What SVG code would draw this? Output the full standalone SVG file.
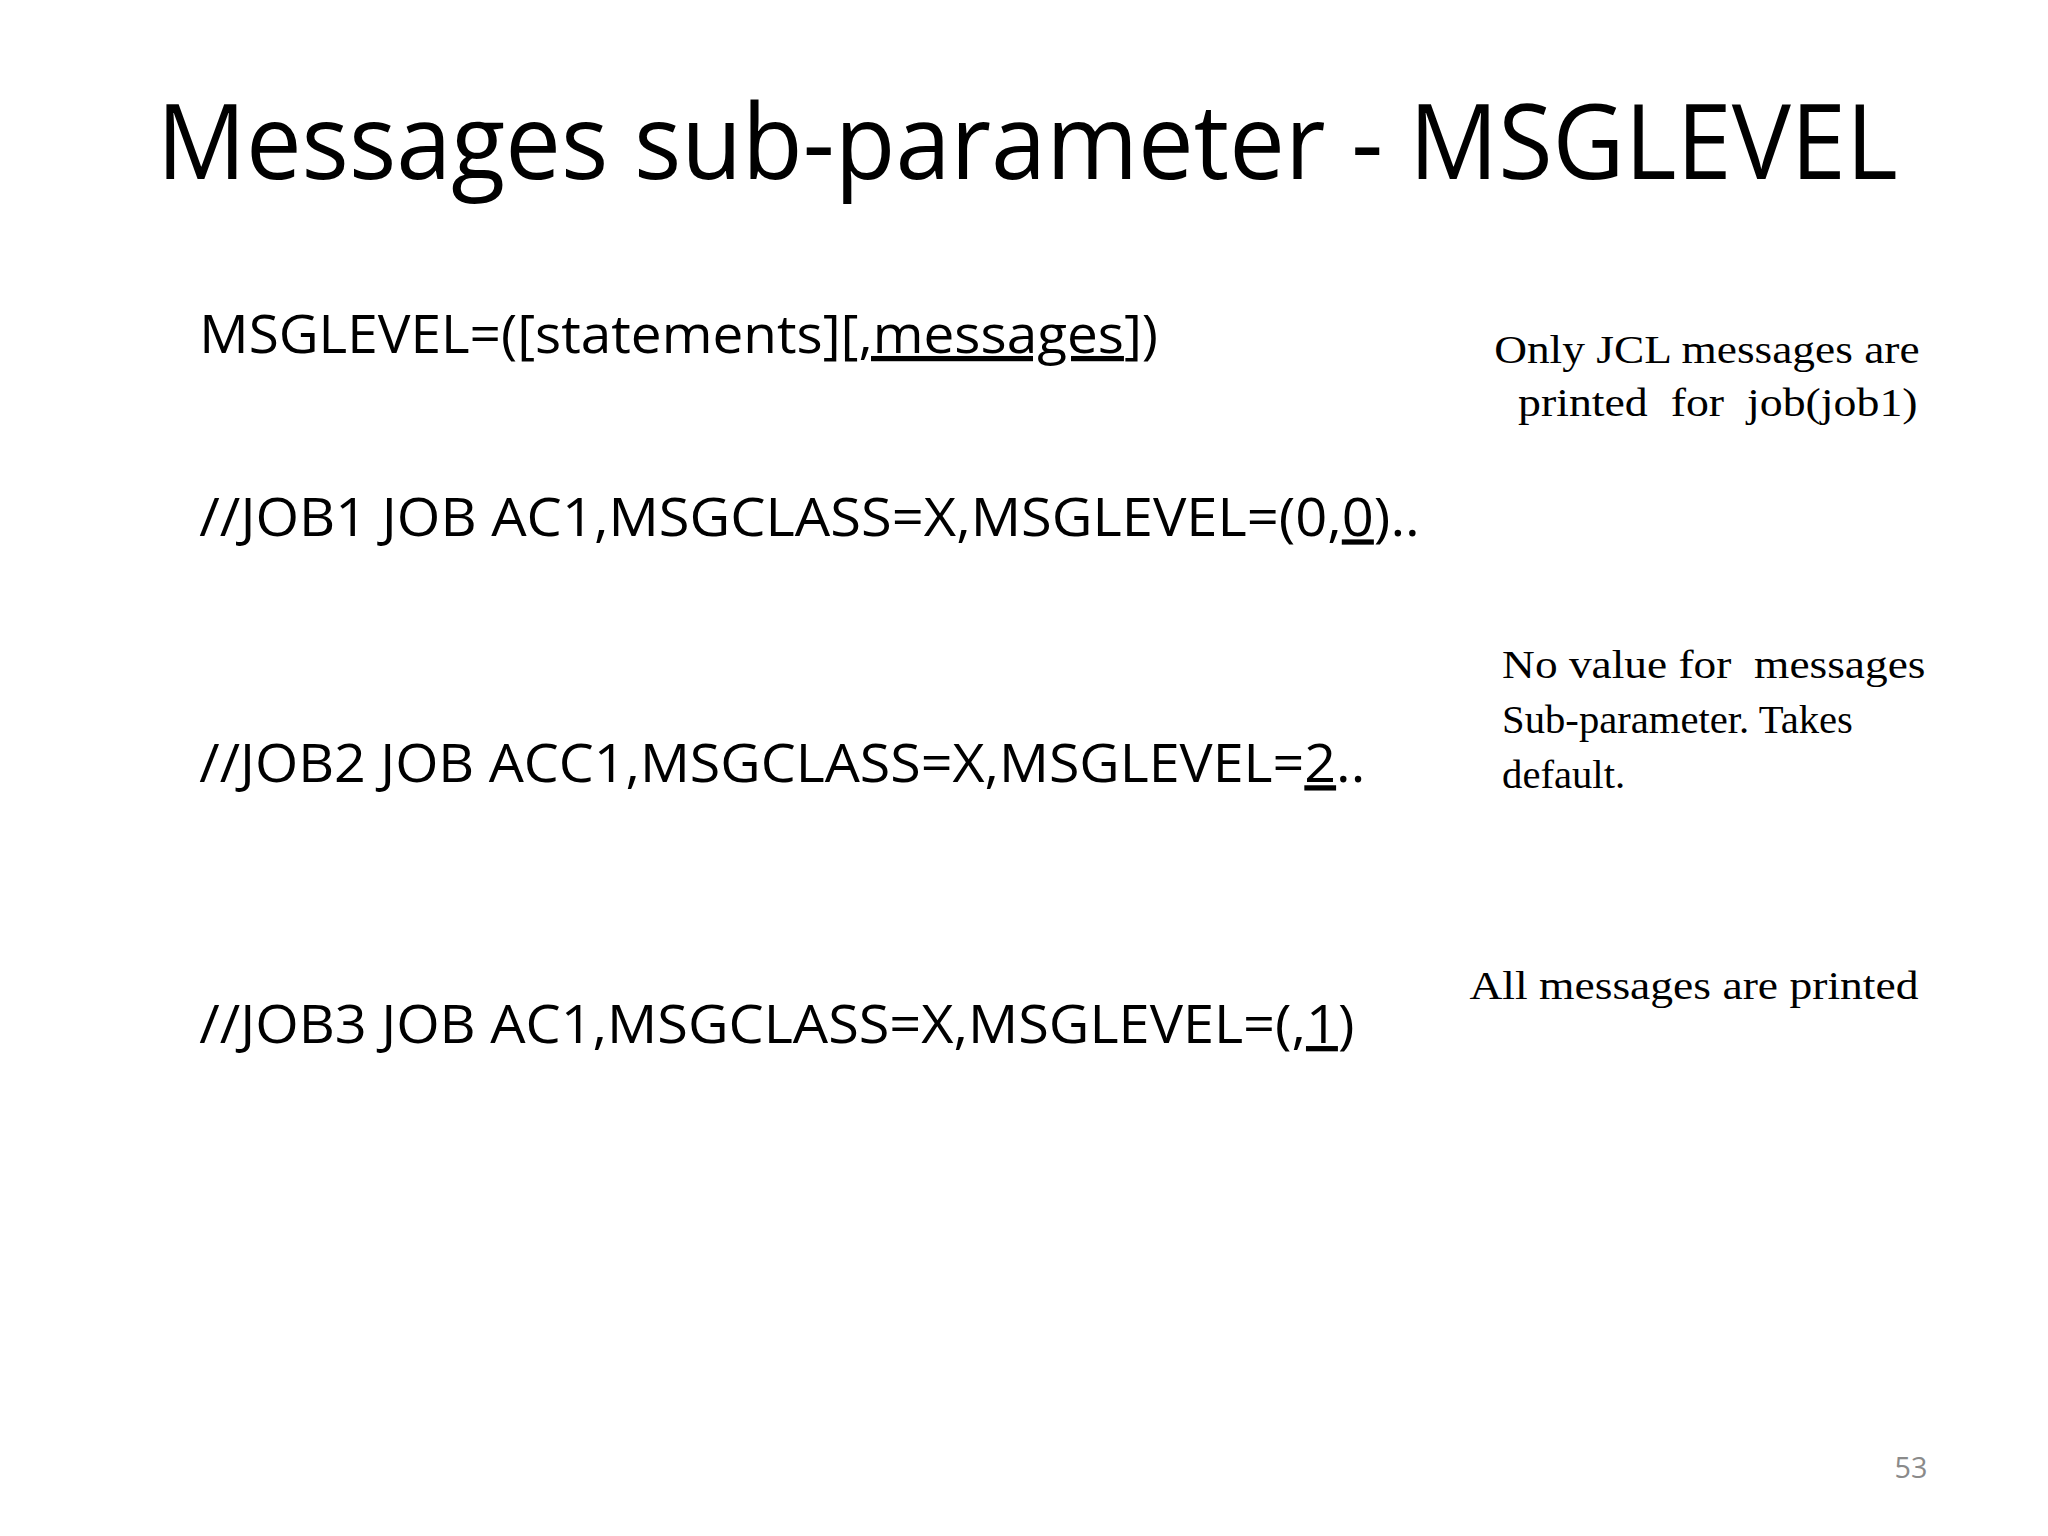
<svg xmlns="http://www.w3.org/2000/svg" width="2048" height="1536" viewBox="0 0 2048 1536">
<style>
.t{font-family:"Open Sans","Liberation Sans",sans-serif;fill:#000}
.c{font-family:"Open Sans","Liberation Sans",sans-serif;font-size:53px;fill:#000}
.r{font-family:"Liberation Serif",serif;font-size:41px;fill:#000}
.u{text-decoration:underline}
</style>
<rect width="2048" height="1536" fill="#fff"/>
<g transform="scale(0.9915)">
<text class="t" x="158" y="181" font-size="106" textLength="1756" lengthAdjust="spacingAndGlyphs">Messages sub-parameter - MSGLEVEL</text>
<g id="syntax"><text class="c" x="201" y="356" textLength="967" lengthAdjust="spacingAndGlyphs">MSGLEVEL=([statements][<tspan class="u">,messages</tspan>])</text></g>
<g id="job1"><text class="c" x="201" y="541" textLength="1231" lengthAdjust="spacingAndGlyphs">//JOB1 JOB AC1,MSGCLASS=X,MSGLEVEL=(0,<tspan class="u">0</tspan>)..</text></g>
<g id="job2"><text class="c" x="201" y="789" textLength="1176" lengthAdjust="spacingAndGlyphs">//JOB2 JOB ACC1,MSGCLASS=X,MSGLEVEL=<tspan class="u">2</tspan>..</text></g>
<g id="job3"><text class="c" x="201" y="1052" textLength="1165" lengthAdjust="spacingAndGlyphs">//JOB3 JOB AC1,MSGCLASS=X,MSGLEVEL=(,<tspan class="u">1</tspan>)</text></g>
<g id="note1">
<text class="r" x="1507" y="366" textLength="429" lengthAdjust="spacingAndGlyphs">Only JCL messages are</text>
<text class="r" x="1531" y="420" textLength="403" lengthAdjust="spacingAndGlyphs" xml:space="preserve">printed  for  job(job1)</text>
</g>
<g id="note2">
<text class="r" x="1515" y="684" textLength="427" lengthAdjust="spacingAndGlyphs" xml:space="preserve">No value for  messages</text>
<text class="r" x="1515" y="739">Sub-parameter. Takes</text>
<text class="r" x="1515" y="795">default.</text>
</g>
<g id="note3"><text class="r" x="1482" y="1008" textLength="453" lengthAdjust="spacingAndGlyphs">All messages are printed</text></g>
<text class="t" x="1944" y="1491" font-size="29" style="fill:#8a8a8a" text-anchor="end">53</text>
</g>
</svg>
